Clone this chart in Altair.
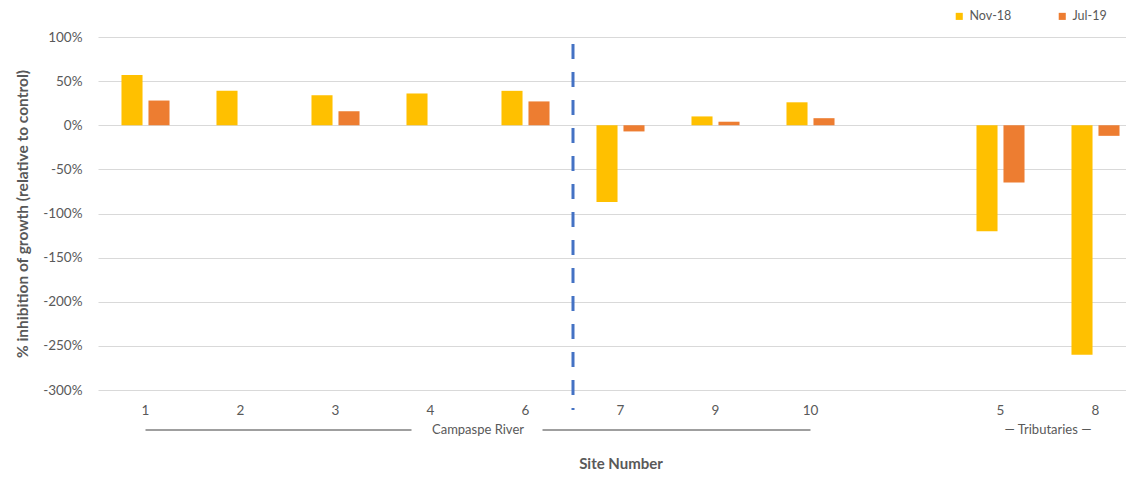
import altair as alt
import pandas as pd

# ---- data ----
sites = ["1", "2", "3", "4", "6", "7", "9", "10", "5", "8"]
nov18 = [57, 39, 34, 36, 39, -87, 10, 26, -120, -260]
jul19 = [28, None, 16, None, 27, -7, 4, 8, -65, -12]
periods = ["Nov-18", "Jul-19"]
colors = ["#FFC000", "#ED7D31"]
x_domain = ["1", "2", "3", "4", "6", "7", "9", "10", " ", "5", "8"]
y_ticks = [100, 50, 0, -50, -100, -150, -200, -250, -300]

rows = []
for s, n, j in zip(sites, nov18, jul19):
    rows.append({"site": s, "period": "Nov-18", "value": n})
    if j is not None:
        rows.append({"site": s, "period": "Jul-19", "value": j})
df = pd.DataFrame(rows)

GRAY = "#595959"
W, H = 1028, 353

xscale = alt.Scale(domain=x_domain, range=[0, 1045], paddingInner=0, paddingOuter=0)
xaxis = alt.Axis(labelAngle=0, ticks=False, domain=False, grid=False,
                 labelPadding=13, labelFontSize=13.5, labelColor=GRAY,
                 title="Site Number", titleFontSize=15, titleFontWeight="bold",
                 titleColor=GRAY, titlePadding=40)

bars = alt.Chart(df).mark_bar().encode(
    x=alt.X("site:N", scale=xscale, axis=xaxis, title="Site Number"),
    xOffset=alt.XOffset("period:N", scale=alt.Scale(domain=periods, paddingInner=0.22, paddingOuter=0.87)),
    y=alt.Y("value:Q", scale=alt.Scale(domain=[-300, 100], nice=False),
            axis=alt.Axis(values=y_ticks, labelExpr="datum.value + '%'", ticks=False, domain=False,
                          gridColor="#d9d9d9", gridWidth=1, labelPadding=16, labelFontSize=13.5,
                          labelColor=GRAY, title="% inhibition of growth (relative to control)",
                          titleFontSize=15.5, titleFontWeight="bold", titleColor=GRAY, titlePadding=12)),
    color=alt.Color("period:N", scale=alt.Scale(domain=periods, range=colors),
                    legend=alt.Legend(orient="none", legendX=855, legendY=-27, direction="horizontal",
                                      title=None, symbolType="square", symbolSize=50,
                                      symbolStrokeWidth=0, labelFontSize=12.5, labelColor=GRAY,
                                      columnPadding=44)),
)

divider = alt.Chart(pd.DataFrame({"site": ["7"]})).mark_rule(
    color="#4472C4", strokeWidth=3, strokeDash=[15, 13]
).encode(
    x=alt.X("site:N", bandPosition=0, title="Site Number"),
    y=alt.value(7), y2=alt.value(373),
)

line_left = alt.Chart(pd.DataFrame({"site": ["1"], "end": ["4"]})).mark_rule(
    color="#7f7f7f", strokeWidth=1.5, x2Offset=-19
).encode(x=alt.X("site:N", title="Site Number"), x2="end:N", y=alt.value(393))

line_right = alt.Chart(pd.DataFrame({"site": ["6"], "end": ["10"]})).mark_rule(
    color="#7f7f7f", strokeWidth=1.5, xOffset=17
).encode(x=alt.X("site:N", title="Site Number"), x2="end:N", y=alt.value(393))

group_text = alt.Chart(pd.DataFrame({"site": ["6", "8"], "label": ["Campaspe River", "— Tributaries —"]})).mark_text(
    fontSize=13, color=GRAY, baseline="middle"
).encode(x=alt.X("site:N", bandPosition=0, title="Site Number"), y=alt.value(393), text="label:N")

chart = alt.layer(bars, divider, line_left, line_right, group_text).properties(
    width=W, height=H,
    autosize=alt.AutoSizeParams(type="none"),
    padding={"left": 90, "top": 29, "right": 0, "bottom": 84},
).configure(font="Lato").configure_view(stroke=None)

chart.save("out.html", embed_options={"renderer": "svg", "actions": False})
